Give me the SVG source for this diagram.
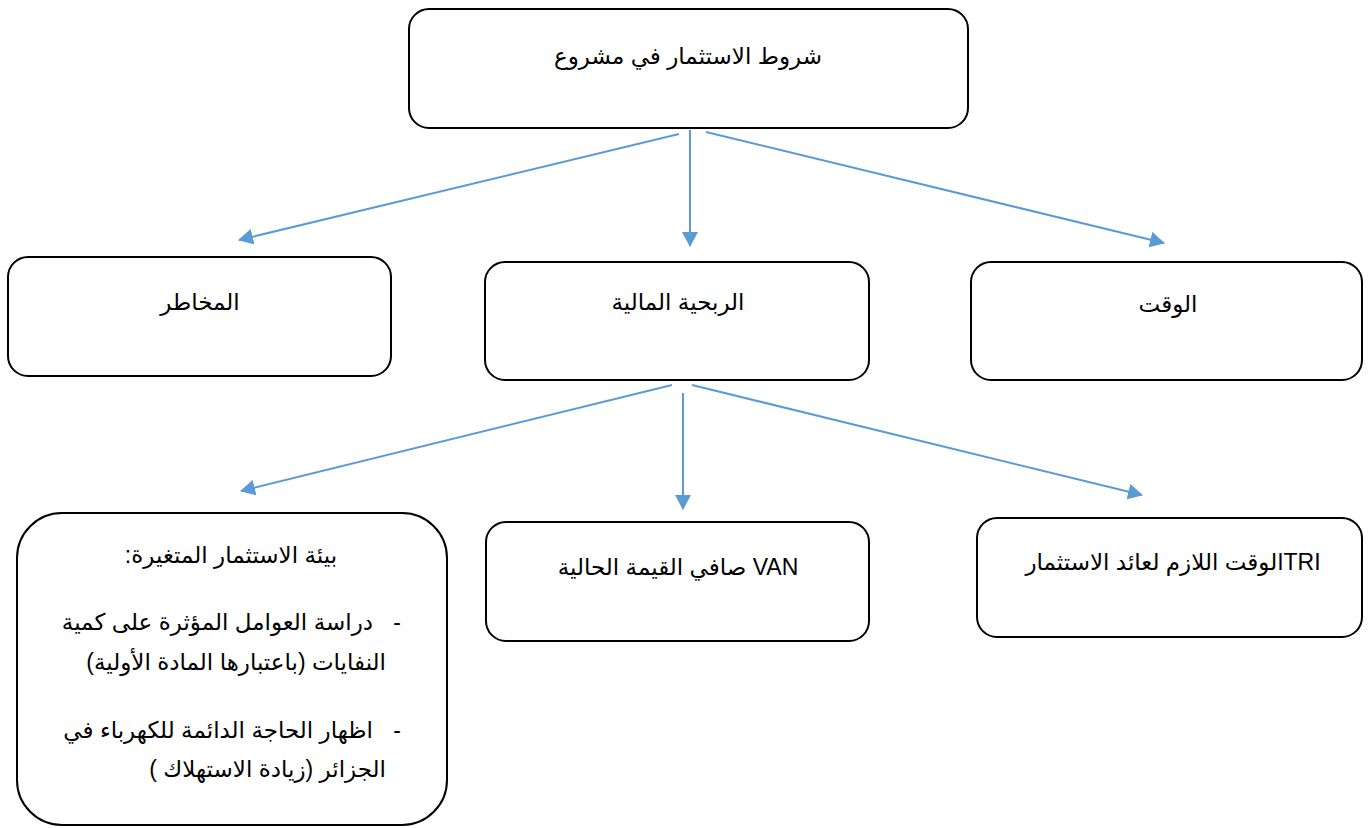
<svg xmlns="http://www.w3.org/2000/svg" width="1371" height="828" viewBox="0 0 1371 828">
<style>
.box{fill:#fff;stroke:#000;stroke-width:2}
.t{font-family:"Liberation Sans","DejaVu Sans",sans-serif;font-size:23px;fill:#000;direction:rtl}
.c{text-anchor:middle}
.e{text-anchor:start}
.con line{stroke:#5B9BD5;stroke-width:2;marker-end:url(#ah)}
</style>
<defs>
<marker id="ah" viewBox="0 0 15 16" refX="14" refY="8" markerWidth="15" markerHeight="16" orient="auto" markerUnits="userSpaceOnUse">
<path d="M0,0 L15,8 L0,16 z" fill="#5B9BD5"/>
</marker>
</defs>
<rect width="1371" height="828" fill="#fff"/>
<g id="connectors" class="con">
<line x1="679" y1="134" x2="239" y2="240"/>
<line x1="690" y1="130" x2="690" y2="246"/>
<line x1="706" y1="132" x2="1164" y2="243"/>
<line x1="672" y1="385" x2="241" y2="491"/>
<line x1="683" y1="393" x2="683" y2="509"/>
<line x1="692" y1="385" x2="1142" y2="495"/>
</g>
<g id="root">
<rect class="box" x="409" y="9" width="559" height="119" rx="20"/>
<text class="t c" x="688" y="64">شروط الاستثمار في مشروع</text>
</g>
<g id="risk">
<rect class="box" x="8" y="257" width="383" height="119" rx="20"/>
<text class="t c" x="200" y="310">المخاطر</text>
</g>
<g id="profit">
<rect class="box" x="485" y="262" width="384" height="118" rx="20"/>
<text class="t c" x="678" y="310">الربحية المالية</text>
</g>
<g id="time">
<rect class="box" x="971" y="262" width="391" height="118" rx="20"/>
<text class="t c" x="1168" y="312">الوقت</text>
</g>
<g id="env">
<rect class="box" x="17" y="513" width="430" height="312" rx="45"/>
<text class="t c" x="231" y="563">بيئة الاستثمار المتغيرة:</text>
<text class="t" x="401" y="630" style="direction:ltr;text-anchor:end">-</text>
<text class="t e" x="373" y="630">دراسة العوامل المؤثرة على كمية</text>
<text class="t e" x="386" y="670">النفايات (باعتبارها المادة الأولية)</text>
<text class="t" x="401" y="738" style="direction:ltr;text-anchor:end">-</text>
<text class="t e" x="373" y="738">اظهار الحاجة الدائمة للكهرباء في</text>
<text class="t e" x="386" y="777">الجزائر (زيادة الاستهلاك )</text>
</g>
<g id="van">
<rect class="box" x="486" y="522" width="383" height="119" rx="20"/>
<text class="t c" x="678" y="575">VAN صافي القيمة الحالية</text>
</g>
<g id="tri">
<rect class="box" x="977" y="518" width="385" height="119" rx="20"/>
<text class="t c" x="1173" y="570">TRIالوقت اللازم لعائد الاستثمار</text>
</g>
</svg>
